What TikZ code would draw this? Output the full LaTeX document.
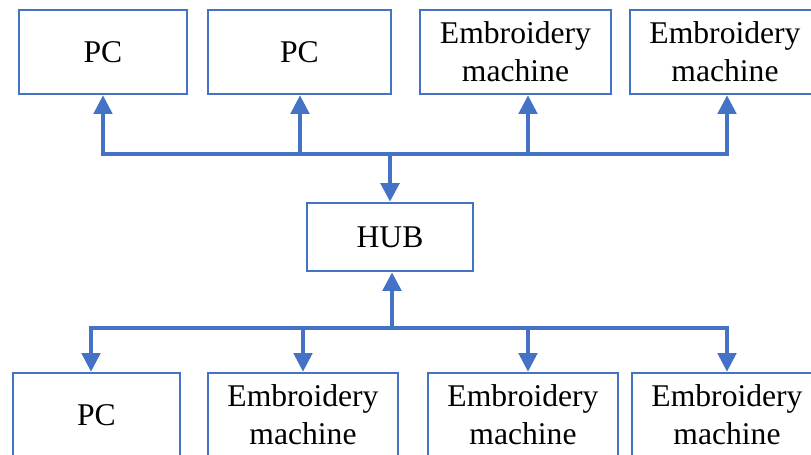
\documentclass[tikz,border=0pt]{standalone}
\usepackage{fontspec}
\setmainfont{Liberation Serif}
\usetikzlibrary{arrows.meta}
\definecolor{linkblue}{RGB}{68,114,196}
\tikzset{
  unit box/.style={draw=linkblue, line width=1.55pt, align=center,
    inner sep=0pt, minimum height=1.68cm,
    font=\fontsize{18}{21.5}\selectfont},
  bus line/.style={draw=linkblue, line width=1.85pt, line cap=rect},
  feed/.style={draw=linkblue, line width=1.85pt,
    -{Triangle[width=10.5pt,length=10.5pt]}},
  hub feed/.style={feed, line width=2.2pt}
}

\begin{document}
\begin{tikzpicture}[x=0.02cm, y=-0.02cm]

  \useasboundingbox (0,0) rectangle (811,454);

  % upper row
  \node[unit box, minimum width=3.36cm] (pc1) at (103,52)   {PC};
  \node[unit box, minimum width=3.66cm] (pc2) at (299.5,52) {PC};
  \node[unit box, minimum width=3.82cm] (em1) at (515.5,52) {Embroidery\\machine};
  \node[unit box, minimum width=3.80cm] (em2) at (725,52)   {Embroidery\\machine};

  % hub
  \node[unit box, minimum width=3.32cm, minimum height=1.36cm] (hub) at (390,237) {HUB};

  % lower row
  \node[unit box, minimum width=3.34cm] (pc3) at (96.5,415) {PC};
  \node[unit box, minimum width=3.80cm] (em3) at (303,415)  {Embroidery\\machine};
  \node[unit box, minimum width=3.80cm] (em4) at (523,415)  {Embroidery\\machine};
  \node[unit box, minimum width=3.80cm] (em5) at (727,415)  {Embroidery\\machine};

  % ---- upper bus ----
  \foreach \n/\x in {pc1/103, pc2/300, em1/528, em2/727}
    \coordinate (t-\n) at (\x,154);
  \draw[bus line] (t-pc1) -- (t-em2);
  \foreach \n in {pc1, pc2, em1, em2}
    \draw[feed] (t-\n) -- (t-\n |- \n.south);
  \coordinate (t-hub) at (390,154);
  \draw[hub feed] (t-hub) -- (hub.north);

  % ---- lower bus ----
  \foreach \n/\x in {pc3/91, em3/303, em4/528, em5/727}
    \coordinate (b-\n) at (\x,328);
  \draw[bus line] (b-pc3) -- (b-em5);
  \foreach \n in {pc3, em3, em4, em5}
    \draw[feed] (b-\n) -- (b-\n |- \n.north);
  \coordinate (b-hub) at (392,328);
  \draw[hub feed] (b-hub) -- (b-hub |- hub.south);

\end{tikzpicture}
\end{document}
